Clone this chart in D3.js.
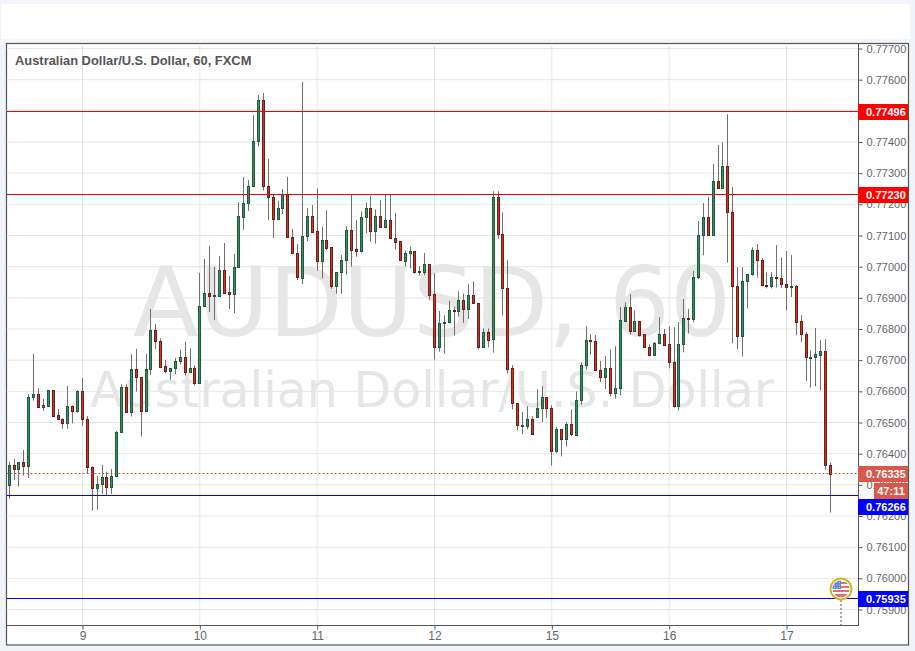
<!DOCTYPE html>
<html><head><meta charset="utf-8">
<script src="https://d3js.org/d3.v7.min.js"></script>
<style>
html,body{margin:0;padding:0;background:#f1f4f8;overflow:hidden}
svg{display:block}
text{font-family:"Liberation Sans",Arial,sans-serif}
</style></head><body><svg id="c" width="915" height="651"></svg>
<script>
const opens=[0.76298,0.76363,0.76352,0.76373,0.76362,0.76581,0.76591,0.76551,0.76554,0.76604,
0.76523,0.76511,0.76498,0.76552,0.76538,0.76600,0.76511,0.76357,0.76289,0.76302,
0.76325,0.76292,0.76328,0.76469,0.76613,0.76533,0.76671,0.76645,0.76536,0.76671,
0.76796,0.76761,0.76681,0.76665,0.76674,0.76696,0.76709,0.76661,0.76674,0.76626,
0.76873,0.76915,0.76907,0.76907,0.76988,0.76918,0.76913,0.76998,0.77160,0.77203,
0.77258,0.77402,0.77534,0.77260,0.77222,0.77154,0.77187,0.77232,0.77096,0.77043,
0.76965,0.77100,0.77161,0.77113,0.77019,0.77084,0.77062,0.76939,0.76982,0.77020,
0.77117,0.77056,0.77051,0.77158,0.77187,0.77113,0.77161,0.77126,0.77149,0.77091,
0.77081,0.77019,0.77043,0.77049,0.76985,0.76982,0.77007,0.76911,0.76741,0.76818,
0.76821,0.76860,0.76857,0.76892,0.76863,0.76908,0.76882,0.76741,0.76789,0.76767,
0.77222,0.77104,0.76930,0.76674,0.76562,0.76490,0.76490,0.76510,0.76517,0.76546,
0.76581,0.76546,0.76407,0.76478,0.76446,0.76494,0.76461,0.76571,0.76684,0.76764,
0.76761,0.76668,0.76645,0.76674,0.76596,0.76610,0.76827,0.76870,0.76795,0.76825,
0.76783,0.76742,0.76718,0.76754,0.76783,0.76751,0.76694,0.76552,0.76751,0.76835,
0.76831,0.76966,0.77101,0.77159,0.77101,0.77274,0.77252,0.77322,0.77175,0.76937,
0.76777,0.76953,0.76976,0.77053,0.77021,0.76941,0.76937,0.76966,0.76963,0.76944,
0.76934,0.76937,0.76825,0.76783,0.76709,0.76709,0.76718,0.76729,0.76363];
const highs=[0.76374,0.76383,0.76373,0.76412,0.76591,0.76720,0.76610,0.76575,0.76604,0.76604,
0.76543,0.76514,0.76617,0.76555,0.76604,0.76643,0.76520,0.76360,0.76329,0.76364,
0.76342,0.76351,0.76472,0.76623,0.76623,0.76719,0.76736,0.76645,0.76720,0.76864,
0.76816,0.76770,0.76701,0.76674,0.76707,0.76733,0.76759,0.76739,0.76684,0.76980,
0.77025,0.77066,0.77000,0.77034,0.77076,0.76970,0.77041,0.77207,0.77288,0.77278,
0.77486,0.77551,0.77557,0.77345,0.77230,0.77211,0.77249,0.77288,0.77121,0.77073,
0.77593,0.77188,0.77198,0.77251,0.77129,0.77181,0.77062,0.76982,0.77037,0.77129,
0.77230,0.77149,0.77177,0.77206,0.77227,0.77184,0.77214,0.77232,0.77232,0.77172,
0.77081,0.77052,0.77065,0.77049,0.77001,0.77044,0.77007,0.76979,0.76858,0.76844,
0.76890,0.76871,0.76921,0.76914,0.76943,0.76953,0.76882,0.76802,0.76802,0.77242,
0.77242,0.77174,0.77020,0.76684,0.76562,0.76533,0.76552,0.76520,0.76607,0.76616,
0.76581,0.76555,0.76485,0.76478,0.76501,0.76542,0.76600,0.76693,0.76809,0.76783,
0.76780,0.76697,0.76713,0.76735,0.76745,0.76870,0.76886,0.76912,0.76860,0.76825,
0.76783,0.76751,0.76758,0.76838,0.76800,0.76809,0.76806,0.76822,0.76896,0.76864,
0.76986,0.77146,0.77204,0.77223,0.77329,0.77390,0.77399,0.77489,0.77255,0.76998,
0.76998,0.76976,0.77062,0.77072,0.77027,0.76982,0.76982,0.77069,0.77030,0.77050,
0.77037,0.76941,0.76844,0.76790,0.76732,0.76803,0.76764,0.76767,0.76372];
const lows=[0.76256,0.76316,0.76294,0.76330,0.76322,0.76570,0.76551,0.76538,0.76554,0.76519,
0.76511,0.76480,0.76480,0.76498,0.76532,0.76490,0.76338,0.76217,0.76220,0.76271,
0.76265,0.76271,0.76325,0.76469,0.76533,0.76519,0.76599,0.76455,0.76536,0.76652,
0.76736,0.76679,0.76658,0.76637,0.76655,0.76686,0.76651,0.76661,0.76619,0.76626,
0.76873,0.76855,0.76829,0.76907,0.76917,0.76864,0.76851,0.76998,0.77118,0.77179,
0.77258,0.77385,0.77244,0.77150,0.77092,0.77154,0.77169,0.77093,0.77043,0.76957,
0.76944,0.77082,0.77112,0.76986,0.76962,0.77053,0.76929,0.76913,0.76913,0.76974,
0.77000,0.77032,0.77045,0.77107,0.77080,0.77074,0.77126,0.77123,0.77091,0.77055,
0.77020,0.77000,0.76994,0.76978,0.76972,0.76972,0.76894,0.76702,0.76727,0.76721,
0.76818,0.76779,0.76840,0.76820,0.76832,0.76882,0.76735,0.76741,0.76741,0.76724,
0.77090,0.76843,0.76658,0.76542,0.76475,0.76462,0.76478,0.76462,0.76517,0.76501,
0.76516,0.76362,0.76403,0.76391,0.76423,0.76456,0.76458,0.76557,0.76670,0.76717,
0.76668,0.76630,0.76608,0.76584,0.76577,0.76587,0.76824,0.76782,0.76795,0.76776,
0.76741,0.76712,0.76718,0.76751,0.76750,0.76674,0.76548,0.76539,0.76725,0.76786,
0.76822,0.76960,0.77037,0.77101,0.77101,0.77252,0.77252,0.77013,0.76754,0.76734,
0.76712,0.76866,0.76971,0.76965,0.76937,0.76930,0.76930,0.76933,0.76931,0.76859,
0.76903,0.76780,0.76758,0.76633,0.76612,0.76616,0.76603,0.76348,0.76211];
const closes=[0.76363,0.76352,0.76373,0.76362,0.76581,0.76591,0.76551,0.76555,0.76604,0.76522,
0.76511,0.76498,0.76552,0.76538,0.76600,0.76511,0.76356,0.76289,0.76302,0.76325,
0.76292,0.76328,0.76469,0.76613,0.76533,0.76671,0.76645,0.76536,0.76671,0.76796,
0.76761,0.76679,0.76665,0.76674,0.76697,0.76709,0.76661,0.76674,0.76626,0.76873,
0.76915,0.76907,0.76909,0.76988,0.76917,0.76913,0.76998,0.77161,0.77203,0.77258,
0.77402,0.77534,0.77260,0.77222,0.77154,0.77187,0.77232,0.77096,0.77043,0.76966,
0.77100,0.77161,0.77112,0.77019,0.77084,0.77061,0.76939,0.76982,0.77020,0.77117,
0.77055,0.77051,0.77158,0.77187,0.77113,0.77161,0.77126,0.77149,0.77091,0.77080,
0.77020,0.77043,0.77049,0.76984,0.76982,0.77007,0.76910,0.76741,0.76818,0.76821,
0.76860,0.76857,0.76892,0.76863,0.76908,0.76882,0.76741,0.76789,0.76766,0.77222,
0.77104,0.76930,0.76673,0.76562,0.76491,0.76492,0.76510,0.76462,0.76546,0.76581,
0.76546,0.76407,0.76478,0.76446,0.76494,0.76462,0.76571,0.76684,0.76764,0.76761,
0.76668,0.76645,0.76674,0.76596,0.76610,0.76828,0.76870,0.76795,0.76825,0.76782,
0.76741,0.76718,0.76755,0.76783,0.76750,0.76693,0.76552,0.76751,0.76835,0.76831,
0.76966,0.77101,0.77159,0.77101,0.77274,0.77252,0.77322,0.77175,0.76937,0.76777,
0.76953,0.76976,0.77053,0.77021,0.76941,0.76937,0.76966,0.76963,0.76944,0.76934,
0.76937,0.76824,0.76783,0.76710,0.76711,0.76719,0.76729,0.76363,0.76335];
const dayLabels=["9","10","11","12","15","16","17"];
const dayIndex=[15,39,63,87,111,135,159];
const priceTicks=[0.777,0.776,0.775,0.774,0.773,0.772,0.771,0.770,0.769,0.768,0.767,0.766,0.765,0.764,0.763,0.762,0.761,0.760,0.759];
const levelResistance=[0.77496,0.7723];
const levelSupport=[0.76266,0.75935];
const lastPrice=0.76335;
const countdown="47:11";
const title="Australian Dollar/U.S. Dollar, 60, FXCM";
const wmMain="AUDUSD, 60";
const wmSub="Australian Dollar/U.S. Dollar";

const GREEN="#3f8f66",GREEN_D="#1d5a3d",RED="#c8392b",RED_D="#6e1d15",WICK="#6f6f6f",GRID="#e6e6e6",FRAME="#555",TXT="#666";
const svg=d3.select("#c");
const L=6.5,R=858.5,T=43.5,B=625.5,OR=908.5,OB=645;
const x=d3.scaleLinear().domain([15,159]).range([82.5,786.5]);
const y=d3.scaleLinear().domain([0.777,0.759]).range([48.5,609.5]);
const cx=i=>Math.floor(x(i))+.5;
const cy=v=>Math.round(y(v)-.6)+.5;

svg.append("rect").attr("x",1).attr("y",4).attr("width",909).attr("height",35).attr("fill","#fff");
svg.append("rect").attr("x",L).attr("y",T).attr("width",OR-L).attr("height",OB-T).attr("fill","#fff").attr("stroke",FRAME).attr("stroke-width",1.2);

const defs=svg.append("defs");
defs.append("clipPath").attr("id","plot").append("rect").attr("x",L).attr("y",T).attr("width",R-L).attr("height",B-T);
const plot=svg.append("g").attr("clip-path","url(#plot)");

plot.append("g").selectAll("line").data(priceTicks).join("line")
 .attr("x1",L).attr("x2",R).attr("y1",d=>y(d)).attr("y2",d=>y(d)).attr("stroke",GRID).attr("stroke-width",1);
plot.append("g").selectAll("line").data(dayIndex).join("line")
 .attr("x1",d=>x(d)).attr("x2",d=>x(d)).attr("y1",T).attr("y2",B).attr("stroke",GRID).attr("stroke-width",1);

plot.append("text").attr("x",432).attr("y",336).attr("text-anchor","middle").attr("font-size",96).style("font-family",'"DejaVu Sans",sans-serif').attr("fill","#e6e6e6").text(wmMain);
plot.append("text").attr("x",432).attr("y",407).attr("text-anchor","middle").attr("font-size",49).style("font-family",'"DejaVu Sans",sans-serif').attr("fill","#e6e6e6").text(wmSub);

const idx=d3.range(opens.length);
plot.append("g").selectAll("line").data(idx).join("line")
 .attr("x1",cx).attr("x2",cx).attr("y1",i=>y(highs[i])).attr("y2",i=>y(lows[i])).attr("stroke",WICK).attr("stroke-width",1);
plot.append("g").selectAll("rect").data(idx).join("rect")
 .attr("x",i=>cx(i)-1).attr("width",2)
 .attr("y",i=>Math.round(y(Math.max(opens[i],closes[i])))+.5)
 .attr("height",i=>Math.max(1,Math.round(y(Math.min(opens[i],closes[i])))-Math.round(y(Math.max(opens[i],closes[i])))))
 .attr("fill",i=>closes[i]>=opens[i]?GREEN:RED)
 .attr("stroke",i=>closes[i]>=opens[i]?GREEN_D:RED_D).attr("stroke-width",1);

plot.append("line").attr("x1",L).attr("x2",R).attr("y1",cy(lastPrice)).attr("y2",cy(lastPrice))
 .attr("stroke","#c8503f").attr("stroke-width",1).attr("stroke-dasharray","2,2");
levelResistance.forEach(v=>plot.append("line").attr("x1",L).attr("x2",R).attr("y1",cy(v)).attr("y2",cy(v)).attr("stroke","#ff0000").attr("stroke-width",1));
levelSupport.forEach(v=>plot.append("line").attr("x1",L).attr("x2",R).attr("y1",cy(v)).attr("y2",cy(v)).attr("stroke","#0000ff").attr("stroke-width",1));

plot.append("text").attr("x",15).attr("y",65).attr("font-size",12.9).attr("font-weight","bold").attr("fill","#555").text(title);

// event marker
plot.append("line").attr("x1",841).attr("x2",841).attr("y1",600).attr("y2",B).attr("stroke","#a8a8a8").attr("stroke-width",2).attr("stroke-dasharray","2,2");
const flagClip=defs.append("clipPath").attr("id","flag");flagClip.append("circle").attr("cx",841).attr("cy",589).attr("r",8.5);
const mk=svg.append("g");
mk.append("circle").attr("cx",841).attr("cy",589).attr("r",10.5).attr("fill","#fff").attr("stroke","#d3b31b").attr("stroke-width",1.8);
const fl=mk.append("g").attr("clip-path","url(#flag)");
fl.append("rect").attr("x",832).attr("y",580).attr("width",18).attr("height",18).attr("fill","#fff");
[582,586,590].forEach(v=>fl.append("rect").attr("x",832).attr("y",v).attr("width",18).attr("height",2).attr("fill","#ef6a6a"));
fl.append("rect").attr("x",832).attr("y",594).attr("width",18).attr("height",4).attr("fill","#ef6a6a");
fl.append("rect").attr("x",832).attr("y",580).attr("width",9).attr("height",9).attr("fill","#5b84cf");
[834,836.5,839].forEach(a=>[582,584.5,587].forEach(b=>fl.append("rect").attr("x",a).attr("y",b).attr("width",1).attr("height",1).attr("fill","#cfe0ff")));

// axes
const yAxis=d3.axisRight(y).tickValues(priceTicks).tickSize(4).tickPadding(4).tickFormat(d3.format(".5f"));
const gy=svg.append("g").attr("transform",`translate(${R},0)`).call(yAxis);
gy.select(".domain").remove();
gy.selectAll(".tick line").attr("stroke",FRAME);
gy.selectAll("text").attr("fill",TXT).attr("font-size",11).attr("font-family",'"Liberation Sans",Arial,sans-serif');
const xAxis=d3.axisBottom(x).tickValues(dayIndex).tickSize(4).tickPadding(2).tickFormat((d,i)=>dayLabels[i]);
const gx=svg.append("g").attr("transform",`translate(0,${B})`).call(xAxis);
gx.select(".domain").remove();
gx.selectAll(".tick line").attr("stroke",FRAME);
gx.selectAll("text").attr("fill",TXT).attr("font-size",12).attr("font-family",'"Liberation Sans",Arial,sans-serif');
svg.append("line").attr("x1",R).attr("x2",R).attr("y1",T).attr("y2",B).attr("stroke",FRAME);
svg.append("line").attr("x1",L).attr("x2",R).attr("y1",B).attr("y2",B).attr("stroke",FRAME);

// price tags
function tag(val,top,color){
 svg.append("rect").attr("x",858).attr("y",top).attr("width",50).attr("height",16).attr("fill",color);
 svg.append("text").attr("x",866).attr("y",top+12).attr("font-size",11).attr("font-weight","bold").attr("fill","#fff").text(d3.format(".5f")(val));
}
tag(levelResistance[0],104,"#ff0000");
tag(levelResistance[1],187,"#ff0000");
tag(lastPrice,466,"#d9584a");
tag(levelSupport[0],499,"#0000ff");
tag(levelSupport[1],591,"#0000ff");
svg.append("rect").attr("x",874).attr("y",483).attr("width",34).attr("height",16).attr("fill","#d9584a");
svg.append("text").attr("x",891).attr("y",495).attr("text-anchor","middle").attr("font-size",11).attr("font-weight","bold").attr("fill","#fff").text(countdown);
</script></body></html>
